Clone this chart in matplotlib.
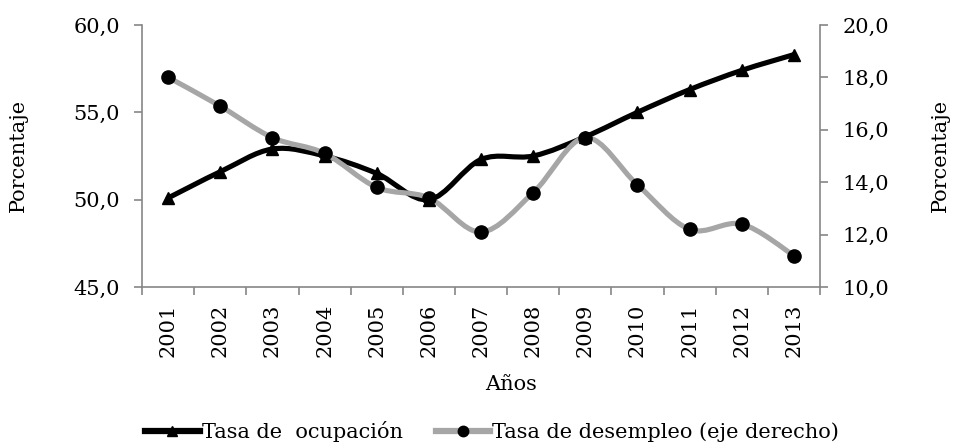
import numpy as np
import matplotlib
matplotlib.use("Agg")
import matplotlib.pyplot as plt
from matplotlib.path import Path
from matplotlib.patches import PathPatch
from matplotlib.lines import Line2D
from matplotlib.ticker import FuncFormatter

plt.rcParams['font.family'] = ['DejaVu Serif']

years = ['2001', '2002', '2003', '2004', '2005', '2006', '2007',
         '2008', '2009', '2010', '2011', '2012', '2013']
ocupacion = [50.1, 51.6, 52.9, 52.5, 51.5, 50.0, 52.3, 52.5, 53.6, 55.0, 56.3, 57.4, 58.3]
desempleo = [18.0, 16.9, 15.7, 15.1, 13.8, 13.4, 12.1, 13.6, 15.7, 13.9, 12.2, 12.4, 11.2]

GRAY = '#a6a6a6'
AXIS = '#868686'
FS = 15


def smooth_path(x, y):
    # excel-like smoothed line: cubic bezier segments through every point
    pts = np.column_stack([x, y]).astype(float)
    n = len(pts)
    verts = [pts[0]]
    codes = [Path.MOVETO]
    for i in range(n - 1):
        p0 = pts[max(i - 1, 0)]
        p1 = pts[i]
        p2 = pts[i + 1]
        p3 = pts[min(i + 2, n - 1)]
        c1 = p1 + (p2 - p0) / 6
        c2 = p2 - (p3 - p1) / 6
        verts += [c1, c2, p2]
        codes += [Path.CURVE4] * 3
    return Path(verts, codes)


def fmt(v, pos):
    return f'{v:.1f}'.replace('.', ',')


fig = plt.figure(figsize=(9.54, 4.45), dpi=100)
ax = fig.add_axes([0.149, 0.355, 0.7105, 0.589])
ax2 = ax.twinx()

x = np.arange(len(years))

ax.add_patch(PathPatch(smooth_path(x, ocupacion), fill=False, color='black',
                       lw=3.7, capstyle='round', joinstyle='round', zorder=2))
ax.plot(x, ocupacion, ls='none', marker='^', ms=8, color='black', zorder=3)

ax2.add_patch(PathPatch(smooth_path(x, desempleo), fill=False, color=GRAY,
                        lw=3.7, capstyle='round', joinstyle='round', zorder=2))
ax2.plot(x, desempleo, ls='none', marker='o', ms=9.5, color='black', zorder=3)

ax.set_xlim(-0.5, len(years) - 0.5)
ax.set_ylim(45, 60)
ax2.set_ylim(10, 20)
ax.set_yticks([45, 50, 55, 60])
ax2.set_yticks([10, 12, 14, 16, 18, 20])
ax.yaxis.set_major_formatter(FuncFormatter(fmt))
ax2.yaxis.set_major_formatter(FuncFormatter(fmt))

ax.set_xticks(np.arange(len(years) + 1) - 0.5)
ax.set_xticklabels([])
ax.set_xticks(x, minor=True)
ax.set_xticklabels(years, minor=True, rotation=90)
ax.tick_params(axis='x', which='minor', length=0, pad=12, labelsize=FS)
ax.tick_params(axis='x', which='major', length=6, color=AXIS, width=1.2)
ax.tick_params(axis='y', length=6, color=AXIS, width=1.2, labelsize=FS, pad=10)
ax2.tick_params(axis='y', length=6, color=AXIS, width=1.2, labelsize=FS, pad=10)

for a in (ax, ax2):
    a.spines['top'].set_visible(False)
    for s in ('left', 'right', 'bottom'):
        a.spines[s].set_color(AXIS)
        a.spines[s].set_linewidth(1.2)
ax.spines['right'].set_visible(False)
ax2.spines['left'].set_visible(False)
ax2.spines['bottom'].set_visible(False)

fig.text(0.019, 0.65, 'Porcentaje', rotation=90, ha='center', va='center', fontsize=FS)
fig.text(0.986, 0.65, 'Porcentaje', rotation=90, ha='center', va='center', fontsize=FS)
fig.text(0.536, 0.135, 'Años', ha='center', va='center', fontsize=FS)

handles = [
    Line2D([], [], color='black', lw=4.5, marker='^', ms=6.5, mfc='black', mec='black'),
    Line2D([], [], color=GRAY, lw=4.5, marker='o', ms=7.5, mfc='black', mec='black'),
]
fig.legend(handles, ['Tasa de  ocupación', 'Tasa de desempleo (eje derecho)'],
           loc='center', bbox_to_anchor=(0.516, 0.03), ncol=2, frameon=False,
           fontsize=FS, handlelength=2.6, handletextpad=0.1, columnspacing=1.6)

fig.savefig('out.png', dpi=100)
